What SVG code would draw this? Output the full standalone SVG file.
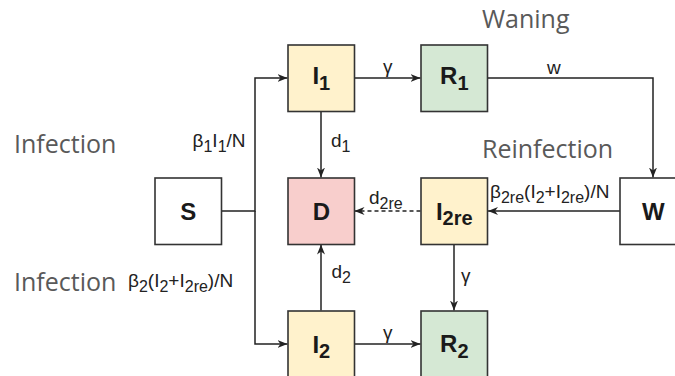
<svg xmlns="http://www.w3.org/2000/svg" width="675" height="376" viewBox="0 0 675 376">
<style>
.box{stroke:#333333;stroke-width:1.6}
.y{fill:#fff2cc}.g{fill:#d5e8d4}.r{fill:#f8cecc}.w{fill:#ffffff}
.nl{font-family:"Liberation Sans",Arial,sans-serif;font-weight:bold;font-size:24px;fill:#1a1a1a}
.nl .s{font-size:20px}
.big{font-family:"Open Sans","Liberation Sans",sans-serif;font-size:25px;fill:#595959}
.lb{font-family:"Liberation Sans",Arial,sans-serif;font-size:19px;fill:#222222}
.lb .s{font-size:16px}
.c{fill:none;stroke:#222222;stroke-width:1.5}
.dash{stroke-dasharray:4 3}
</style>
<defs>
<marker id="ah" viewBox="0 0 10 8" refX="10" refY="4" markerWidth="10" markerHeight="8" markerUnits="userSpaceOnUse" orient="auto">
<path d="M0,0 L10,4 L0,8 L3,4 Z" fill="#222222"/>
</marker>
</defs>
<g id="connectors">
<path class="c" d="M222,211 H255 V78 H287.5" marker-end="url(#ah)"/>
<path class="c" d="M255,211 V344 H287.5" marker-end="url(#ah)"/>
<path class="c" d="M354.5,78 H420.5" marker-end="url(#ah)"/>
<path class="c" d="M487.5,78 H653 V177.5" marker-end="url(#ah)"/>
<path class="c" d="M321,111.5 V177.5" marker-end="url(#ah)"/>
<path class="c" d="M620,211 H488" marker-end="url(#ah)"/>
<path class="c dash" d="M420.5,211 H354.5" marker-end="url(#ah)"/>
<path class="c" d="M454,244.5 V310.5" marker-end="url(#ah)"/>
<path class="c" d="M354.5,344 H420.5" marker-end="url(#ah)"/>
<path class="c" d="M321,310.5 V244.5" marker-end="url(#ah)"/>
</g>
<g id="labels">
<text class="big" x="14" y="152.5">Infection</text>
<text class="big" x="14" y="291">Infection</text>
<text class="big" x="482" y="28.3">Waning</text>
<text class="big" x="482" y="158.3">Reinfection</text>
<text class="lb" x="192.5" y="147">β<tspan class="s" dy="5">1</tspan><tspan dy="-5">I</tspan><tspan class="s" dy="5">1</tspan><tspan dy="-5">/N</tspan></text>
<text class="lb" x="128" y="286.5">β<tspan class="s" dy="5">2</tspan><tspan dy="-5">(I</tspan><tspan class="s" dy="5">2</tspan><tspan dy="-5">+I</tspan><tspan class="s" dy="5">2re</tspan><tspan dy="-5">)/N</tspan></text>
<text class="lb" x="490" y="198">β<tspan class="s" dy="5">2re</tspan><tspan dy="-5">(I</tspan><tspan class="s" dy="5">2</tspan><tspan dy="-5">+I</tspan><tspan class="s" dy="5">2re</tspan><tspan dy="-5">)/N</tspan></text>
<text class="lb" x="331" y="147">d<tspan class="s" dy="5">1</tspan></text>
<text class="lb" x="331.5" y="278">d<tspan class="s" dy="5">2</tspan></text>
<text class="lb" x="369" y="203.5">d<tspan class="s" dy="5">2re</tspan></text>
<text class="lb" x="383" y="73">γ</text>
<text class="lb" x="547" y="74">w</text>
<text class="lb" x="461" y="282">γ</text>
<text class="lb" x="383" y="339">γ</text>
</g>
<g id="node-S"><rect class="box w" x="155" y="178" width="66.5" height="66.5"/><text class="nl" x="188.3" y="219.5" text-anchor="middle">S</text></g>
<g id="node-I1"><rect class="box y" x="288" y="45" width="66.5" height="66.5"/><text class="nl" x="321.3" y="83.5" text-anchor="middle">I<tspan class="s" dy="6">1</tspan></text></g>
<g id="node-R1"><rect class="box g" x="421" y="45" width="66.5" height="66.5"/><text class="nl" x="454.3" y="83.5" text-anchor="middle">R<tspan class="s" dy="6">1</tspan></text></g>
<g id="node-D"><rect class="box r" x="288" y="178" width="66.5" height="66.5"/><text class="nl" x="321.3" y="220" text-anchor="middle">D</text></g>
<g id="node-I2re"><rect class="box y" x="421" y="178" width="66.5" height="66.5"/><text class="nl" x="454.3" y="219.5" text-anchor="middle">I<tspan class="s" dy="5">2re</tspan></text></g>
<g id="node-W"><rect class="box w" x="620" y="178" width="66.5" height="66.5"/><text class="nl" x="653.3" y="219.5" text-anchor="middle">W</text></g>
<g id="node-I2"><rect class="box y" x="288" y="311" width="66.5" height="66.5"/><text class="nl" x="321.3" y="352.5" text-anchor="middle">I<tspan class="s" dy="5.5">2</tspan></text></g>
<g id="node-R2"><rect class="box g" x="421" y="311" width="66.5" height="66.5"/><text class="nl" x="454.3" y="351.7" text-anchor="middle">R<tspan class="s" dy="6">2</tspan></text></g>
</svg>
